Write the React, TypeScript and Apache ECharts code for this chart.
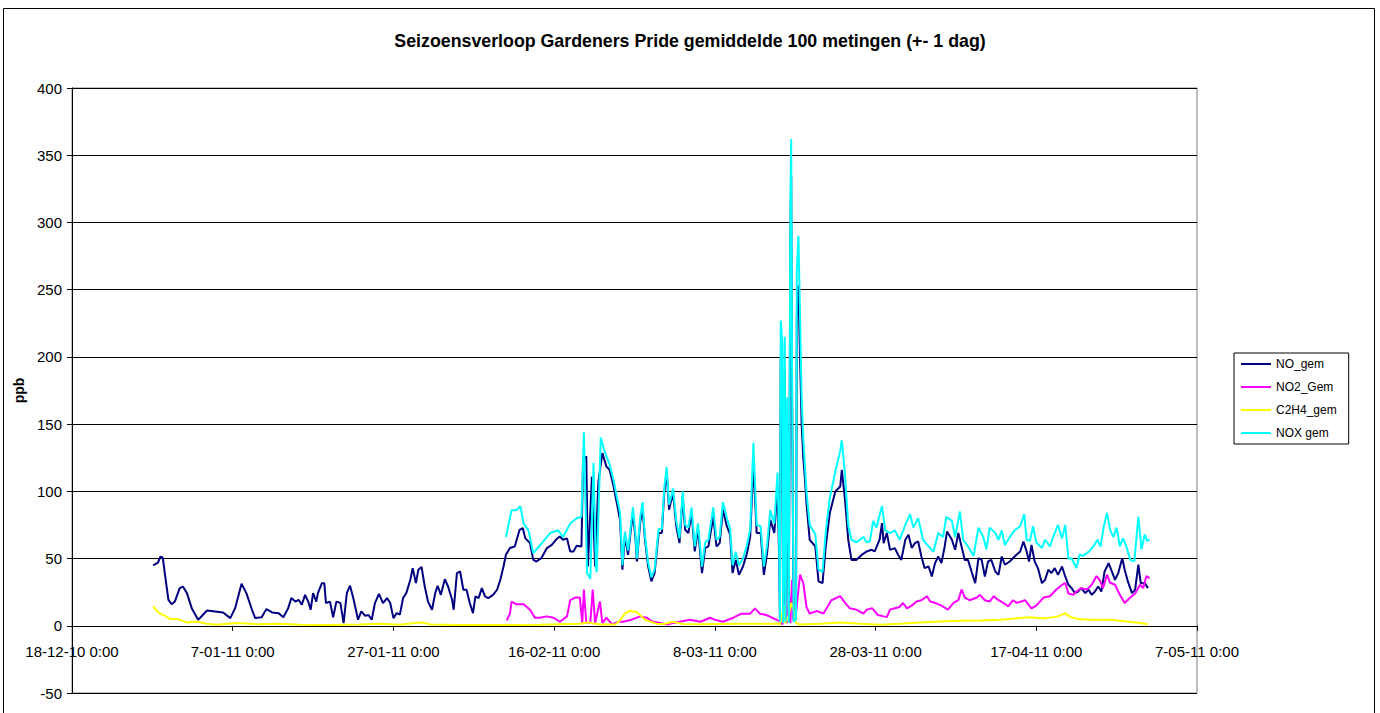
import React, { useEffect, useRef } from "react";
import * as echarts from "echarts";

const chartTitle = "Seizoensverloop Gardeners Pride gemiddelde 100 metingen (+- 1 dag)";
const seriesNames = ["NO_gem", "NO2_Gem", "C2H4_gem", "NOX gem"];
const seriesColors = ["#000080", "#FF00FF", "#FFFF00", "#00FFFF"];
// x values are days since 18-12-10 0:00
const xTickLabels = [
  "18-12-10 0:00", "7-01-11 0:00", "27-01-11 0:00", "16-02-11 0:00",
  "8-03-11 0:00", "28-03-11 0:00", "17-04-11 0:00", "7-05-11 0:00",
];

const noGem: number[][] = [
  [10.1,45],[10.7,47],[11.0,51.5],[11.3,50.6],[11.6,36.7],[12.0,19.3],[12.4,16],[12.8,18],[13.4,28],[13.8,29.2],
  [14.3,24.3],[14.9,13.1],[15.7,4.5],[16.1,6.9],[16.8,11.4],[17.8,10.7],[18.8,9.9],[19.7,5.7],[20.3,13.1],[21.1,31.2],
  [21.7,24.3],[22.4,11.9],[22.8,5.7],[23.6,6.4],[24.2,12.4],[24.9,9.9],[25.7,9.4],[26.3,6.4],[26.9,13.1],[27.3,20.6],
  [27.8,18],[28.2,19.3],[28.6,15.6],[29.0,23],[29.4,18],[29.7,11.9],[30.0,24.3],[30.4,18],[30.6,24.3],[31.1,31.7],
  [31.4,31.7],[31.6,16.9],[32.1,18],[32.5,6.4],[32.9,18],[33.4,17],[33.8,2],[34.2,24.3],[34.6,29.8],[35.0,20.6],
  [35.6,4.5],[36.0,10.7],[36.5,7.4],[36.9,8],[37.3,4.5],[37.7,16.9],[38.2,23.8],[38.7,16.9],[39.2,20.6],[39.6,16.9],
  [40.0,5.7],[40.4,9.4],[40.8,8.3],[41.2,20.6],[41.6,24.3],[42.1,34.2],[42.4,42.9],[42.8,31.7],[43.1,41.7],[43.5,43.7],
  [43.9,29.2],[44.3,18],[44.8,11.9],[45.2,24.3],[45.5,29.8],[45.9,23],[46.4,34.7],[46.8,29.2],[47.3,19.3],[47.5,11.9],
  [47.9,39.2],[48.3,40.4],[48.7,26.8],[49.1,26.8],[49.5,16.9],[49.9,9.4],[50.2,21.8],[50.6,20.6],[51.0,28],[51.4,21.8],
  [51.8,20.6],[52.4,23],[52.9,26.8],[53.3,34.2],[53.7,44.1],[54.0,52.8],[54.5,57.8],[55.1,59],[55.7,71.4],[56.1,72.7],
  [56.4,65.2],[57.0,61.5],[57.4,49],[57.8,47.8],[58.4,50.3],[59.1,57.8],[59.7,60.2],[60.3,64.5],[60.7,66.4],[61.1,64],
  [61.6,65],[62.0,55.3],[62.4,55.3],[62.8,59.5],[63.4,59],[63.6,123.5],[64.0,126],[64.2,44.1],[64.7,111],[65.1,44],
  [65.5,107],[66.0,128.4],[66.5,118.5],[66.9,116],[67.4,103.6],[67.8,91.3],[68.2,78.8],[68.5,41.7],[68.8,66.4],[69.2,52.8],
  [69.5,69],[69.8,83.8],[70.1,66.4],[70.3,47.8],[70.7,76.4],[71.0,87.5],[71.3,64],[71.7,44.1],[72.1,33],[72.5,39.2],
  [73.0,69],[73.4,69],[73.7,98.7],[74.0,114.8],[74.3,86.3],[74.8,98.7],[75.2,73.9],[75.6,61.5],[76.0,96.2],[76.3,71.4],
  [76.7,69],[77.1,83.8],[77.5,55.3],[77.9,72],[78.4,39.2],[78.8,57.8],[79.2,59],[79.8,81.3],[80.2,59],[80.6,61.5],
  [81.0,86.3],[81.5,73.9],[81.9,67.7],[82.2,39.2],[82.6,49],[83.0,37.9],[83.5,44.1],[84.0,54],[84.4,66.4],[84.8,121],
  [85.2,69],[85.7,69],[86.1,37.9],[86.5,54],[86.9,78.8],[87.4,69],[87.8,103.6],[88.0,50],[88.1,5],[88.2,200],
  [88.4,180],[88.5,5],[88.7,190],[88.8,5],[89.0,150],[89.2,3],[89.4,290],[89.5,335],[89.6,180],[89.8,5],
  [90.1,5],[90.2,230],[90.4,253],[90.6,200],[90.8,150],[91.0,125],[91.2,110],[91.4,91.3],[91.8,64],[92.5,59],
  [92.9,33],[93.4,31.7],[93.8,59],[94.3,83.8],[95.0,100],[95.6,103.6],[95.8,116],[96.2,93.7],[96.6,64],[97.0,49],
  [97.6,49],[98.3,52.8],[98.9,55.3],[99.5,56.5],[99.9,55.3],[100.5,64],[100.8,76.4],[101.0,61.5],[101.4,69],[101.8,56.5],
  [102.4,57.8],[102.8,52.8],[103.2,49],[103.7,64],[104.1,67.7],[104.5,57.8],[104.9,61.5],[105.3,62.7],[105.7,51.5],[106.1,42.9],
  [106.6,44.1],[107.0,36.7],[107.4,46.6],[107.8,51.5],[108.2,46.6],[108.6,59],[108.9,70.2],[109.5,64],[109.9,56.5],[110.3,69],
  [110.7,59],[111.1,49],[111.5,49],[112.0,39.2],[112.4,31.7],[112.8,50.3],[113.2,49],[113.6,36.7],[114.0,47.8],[114.4,49],
  [114.9,40.4],[115.3,37.9],[115.7,51.5],[116.1,45.4],[116.7,47.8],[117.3,51.5],[118.0,55.3],[118.4,62.7],[118.8,55.3],[119.1,47.8],
  [119.4,60.2],[119.8,47.8],[120.2,42.9],[120.7,31.7],[121.1,34.2],[121.5,41.7],[121.9,39.2],[122.3,42.9],[122.7,37.9],[123.2,44.1],
  [123.6,36.7],[124.0,30.5],[124.4,28],[124.8,24.3],[125.2,25.5],[125.6,28],[126.1,24.3],[126.5,26.8],[126.9,23],[127.3,25.5],
  [127.7,29.2],[128.1,25.5],[128.5,40.4],[129.0,46.6],[129.4,40.4],[129.8,34.2],[130.2,39.2],[130.7,50.3],[131.0,41.7],[131.4,33],
  [131.9,24.3],[132.3,26.8],[132.7,45.4],[133.0,31.7],[133.5,31.7],[133.9,28],
];

const no2Gem: number[][] = [
  [54.1,4],[54.5,9],[54.7,18],[55.3,16],[56.2,16],[57.0,12],[57.6,6],[58.2,6],[59.1,7],[59.9,6],
  [60.7,3],[61.6,7],[62.0,19],[62.6,21],[63.2,21],[63.5,2],[63.7,27],[64.0,2],[64.5,2],[64.8,27],
  [65.1,2],[65.7,18],[66.0,2],[66.5,6],[67.2,1],[68.0,3],[68.6,3],[69.6,4.5],[70.7,7],[71.5,6],
  [72.3,3],[73.2,2],[74.0,1],[74.8,2],[75.6,3],[76.9,4.5],[78.2,3],[79.4,6],[80.0,4.5],[81.0,3],
  [82.3,6],[83.3,9],[84.4,9],[85.0,13],[85.6,9],[86.4,8],[87.1,6],[87.7,4.5],[88.1,3],[88.4,1],
  [88.8,19],[89.0,2],[89.3,22],[89.4,2],[89.6,34],[89.8,3],[90.0,5],[90.2,15],[90.6,38],[91.0,32],
  [91.4,14],[91.8,9],[92.7,11],[93.5,9],[94.5,19],[95.6,22],[96.2,17],[96.8,13],[97.6,12],[98.5,9],
  [98.9,12],[99.6,13],[100.3,8],[101.0,7],[101.4,6.5],[101.8,12],[102.4,13],[103.0,14],[103.4,17],[103.9,13],
  [104.5,15],[105.1,18],[105.7,19],[106.4,22],[106.8,18],[107.4,17],[108.2,15],[109.0,12],[109.7,17],[110.3,19],
  [110.7,27],[111.1,21],[111.7,19],[112.6,21],[113.0,23],[113.6,19],[114.2,18],[114.7,22],[115.3,19],[115.9,17],
  [116.5,14.5],[117.1,19],[117.6,17],[118.6,19],[119.4,13],[120.0,15],[120.9,21],[121.7,22],[122.5,27],[122.9,29],
  [123.6,32],[124.0,24],[124.6,23],[125.0,25.5],[125.6,28],[126.3,27],[126.9,30.5],[127.5,37],[127.9,34],[128.3,28],
  [128.8,38],[129.2,32],[129.8,30.5],[130.4,23],[131.0,17],[131.7,21],[132.3,24],[132.9,30.5],[133.3,28],[133.7,37],
  [134.1,35.5],
];

const c2h4Gem: number[][] = [
  [10.1,14.4],[10.7,10],[11.6,7.4],[12.2,5],[13.2,5],[14.3,2.5],[15.5,3.2],[16.8,1.5],[18.0,0.7],[20.5,2],
  [23.0,1.2],[25.9,1.5],[28.4,0.8],[32.1,0.5],[35.8,1],[38.3,1.5],[40.8,0.8],[42.9,2.2],[43.7,2.5],[44.6,1],
  [48.3,0.5],[53.3,0.5],[58.2,0.8],[63.2,1.5],[64.2,2.5],[65.7,1],[67.6,1],[68.2,4],[68.8,9],[69.4,11],
  [70.2,10.5],[70.7,8],[71.3,4.5],[72.8,1.4],[73.8,1.5],[74.8,3],[76.0,1.4],[78.2,1.2],[83.1,1.5],[87.9,1.5],
  [88.1,1],[88.6,15],[88.8,2],[89.2,8],[89.5,17],[89.8,12],[90.1,2],[90.6,1],[93.1,1.5],[95.6,2.5],
  [98.1,1.5],[100.5,0.7],[103.0,1.5],[105.5,2.5],[109.3,3.5],[113.0,4],[115.5,4.5],[118.0,5.7],[119.2,6.4],[121.1,5.5],
  [122.7,7],[123.6,9.4],[124.2,6.5],[125.2,5],[126.7,4.5],[129.2,4.5],[131.0,3.3],[132.9,2],[133.9,1.2],
];

const noxGem: number[][] = [
  [54.0,66],[54.7,86],[55.3,86],[55.8,89],[56.2,76],[56.8,71],[57.4,54],[58.4,61],[59.5,69],[60.5,71],
  [61.1,66],[62.0,76],[62.8,80],[63.4,81],[63.7,144],[64.1,39],[64.5,35],[64.9,121],[65.2,44],[65.3,40],
  [65.8,140],[66.2,131],[66.9,120],[67.4,108],[67.8,96],[68.2,84],[68.5,45],[68.8,70],[69.2,56],[69.5,72],
  [69.8,88],[70.1,70],[70.3,50],[70.7,80],[71.0,92],[71.3,67],[71.7,47],[72.1,36],[72.5,42],[73.0,72],
  [73.4,72],[73.7,102],[74.0,118],[74.3,90],[74.8,102],[75.2,78],[75.6,65],[76.0,100],[76.3,75],[76.7,73],
  [77.1,88],[77.5,59],[77.9,76],[78.4,44],[78.8,62],[79.2,64],[79.8,88],[80.2,64],[80.6,66],[81.0,92],
  [81.5,80],[81.9,72],[82.2,45],[82.6,55],[83.0,45],[83.5,50],[84.0,60],[84.4,72],[84.8,136],[85.2,75],
  [85.7,74],[86.1,44],[86.5,60],[86.9,86],[87.4,76],[87.8,114],[88.0,60],[88.1,3],[88.2,227],[88.4,210],
  [88.5,2],[88.7,215],[88.8,3],[89.0,170],[89.2,2],[89.4,320],[89.5,362],[89.6,200],[89.8,3],[90.1,5],
  [90.2,265],[90.4,290],[90.6,230],[90.8,170],[91.0,140],[91.2,120],[91.4,100],[91.8,75],[92.5,68],[92.9,42],
  [93.4,40],[93.8,70],[94.3,95],[95.0,115],[95.6,130],[95.8,138],[96.2,112],[96.6,75],[97.0,64],[97.6,62],
  [98.5,66],[98.9,62],[99.3,63],[99.7,78],[100.1,73],[100.8,89],[101.2,71],[101.8,69],[102.4,71],[103.0,64],
  [103.7,75],[104.3,83],[104.7,73],[105.3,80],[105.9,64],[106.6,59],[107.2,55],[107.8,69],[108.4,66],[108.8,81],
  [109.5,78],[109.9,66],[110.5,85],[110.9,64],[111.5,59],[112.2,52],[112.8,73],[113.4,66],[113.8,57],[114.2,73],
  [114.9,69],[115.3,64],[115.7,71],[116.1,60],[116.7,66],[117.3,71],[118.0,74],[118.5,83],[118.8,64],[119.2,63],
  [119.6,74],[120.0,62],[120.7,58],[121.1,64],[121.7,59],[122.1,66],[122.7,75],[123.2,65],[123.6,75],[124.0,50],
  [124.4,50],[125.0,43],[125.4,53],[125.8,52],[126.5,55],[127.1,59],[127.6,64],[128.0,59],[128.4,74],[128.8,84],
  [129.2,71],[129.6,66],[130.0,73],[130.4,59],[130.8,65],[131.2,59],[131.7,49],[132.2,48],[132.7,81],[133.1,57],
  [133.5,68],[133.8,63],[134.1,64],
];

const seriesData = [noGem, no2Gem, c2h4Gem, noxGem];

const FONT = "'Liberation Sans', Arial, sans-serif";

// pixel layout of the plot area
const GRID_TOP = 88;
const GRID_BOTTOM = 20;
const Y_MIN = -50;
const Y_MAX = 400;

export default function App() {
  const ref = useRef<HTMLDivElement>(null);
  useEffect(() => {
    if (!ref.current) return;
    const chart = echarts.init(ref.current, undefined, { renderer: "svg" });
    const plotH = 713 - GRID_TOP - GRID_BOTTOM;
    // move the date axis up from the bottom edge to where y = 0 lies
    const zeroOffset = -(plotH * (0 - Y_MIN)) / (Y_MAX - Y_MIN);
    chart.setOption({
      animation: false,
      backgroundColor: "#ffffff",
      textStyle: { fontFamily: FONT, color: "#000" },
      title: {
        text: chartTitle,
        left: "center",
        top: 32,
        padding: 0,
        textStyle: { fontFamily: FONT, fontSize: 17.8, fontWeight: "bold", color: "#000" },
      },
      legend: {
        orient: "vertical",
        left: 1234,
        top: 353,
        padding: [5, 12, 5, 6],
        borderColor: "#000",
        borderWidth: 1,
        itemWidth: 30,
        itemHeight: 14,
        itemGap: 11,
        data: seriesNames,
        itemStyle: { opacity: 0 },
        lineStyle: { width: 2 },
        textStyle: { fontFamily: FONT, fontSize: 12, color: "#000" },
      },
      grid: {
        left: 72,
        top: GRID_TOP,
        right: 183,
        bottom: GRID_BOTTOM,
        show: true,
        borderColor: "#808080",
        borderWidth: 1,
        outerBoundsMode: "none",
        containLabel: false,
      },
      xAxis: {
        type: "value",
        min: 0,
        max: 140,
        interval: 20,
        offset: zeroOffset,
        axisLine: { show: true, onZero: false, lineStyle: { color: "#000", width: 1 } },
        axisTick: { show: true, length: 5, lineStyle: { color: "#000" } },
        axisLabel: {
          fontFamily: FONT,
          fontSize: 15,
          color: "#000",
          margin: 18,
          showMinLabel: true,
          showMaxLabel: true,
          formatter: (v: number) => xTickLabels[Math.round(v / 20)] ?? "",
        },
        splitLine: { show: false },
      },
      yAxis: {
        type: "value",
        min: Y_MIN,
        max: Y_MAX,
        interval: 50,
        name: "ppb",
        nameLocation: "middle",
        nameRotate: 90,
        nameGap: 42,
        nameTextStyle: { fontFamily: FONT, fontSize: 14, fontWeight: "bold", color: "#000" },
        axisLine: { show: true, onZero: false, lineStyle: { color: "#000", width: 1 } },
        axisTick: { show: true, length: 5, lineStyle: { color: "#000" } },
        axisLabel: { fontFamily: FONT, fontSize: 15, color: "#000", margin: 10 },
        splitLine: { show: true, lineStyle: { color: "#000", width: 1 } },
      },
      graphic: [
        {
          type: "rect",
          silent: true,
          shape: { x: 3.5, y: 8.5, width: 1371, height: 730 },
          style: { fill: "none", stroke: "#000", lineWidth: 1 },
        },
      ],
      series: seriesNames.map((name, i) => ({
        name,
        type: "line",
        data: seriesData[i],
        symbol: "none",
        showSymbol: false,
        color: seriesColors[i],
        lineStyle: { color: seriesColors[i], width: 2 },
        emphasis: { disabled: true },
        silent: true,
        z: 2 + i,
      })),
    });
    return () => chart.dispose();
  }, []);
  return (
    <div
      ref={ref}
      style={{ position: "fixed", left: 0, top: 0, width: 1380, height: 713, background: "#fff" }}
    />
  );
}
